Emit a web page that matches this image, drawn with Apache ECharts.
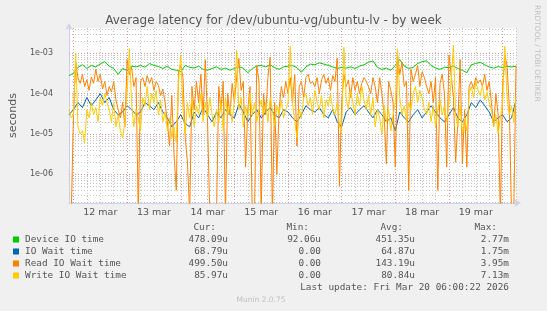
<!DOCTYPE html>
<html>
<head>
<meta charset="utf-8">
<script src="https://cdn.jsdelivr.net/npm/echarts@6/dist/echarts.min.js"></script>
<style>
  html, body { margin: 0; padding: 0; background: #f0f0f0; }
  #chart { width: 547px; height: 311px; }
</style>
</head>
<body>
<div id="chart"></div>
<script>
// time range of the week graph (UTC)
const startTime = Date.UTC(2026, 2, 11, 22, 0, 0)
const endTime = Date.UTC(2026, 2, 20, 6, 0, 0)
const HOUR = 3600 * 1000

// values in microseconds
// Device IO time, one value every 2 hours
const deviceIoTime = [
  280, 320, 450, 520, 420, 500, 460, 550, 620, 480,
  420, 300, 420, 380, 480, 460, 500, 450, 560, 500,
  470, 420, 480, 400, 380, 350, 500, 450, 430, 480,
  400, 380, 420, 460, 400, 430, 380, 420, 460, 430,
  330, 420, 480, 500, 460, 520, 440, 400, 460, 480,
  500, 440, 340, 460, 540, 520, 580, 540, 500, 460,
  420, 450, 430, 460, 420, 480, 520, 600, 650, 450,
  400, 430, 380, 500, 700, 480, 420, 450, 560, 620,
  650, 500, 430, 400, 450, 440, 480, 420, 380, 330,
  520, 560, 600, 520, 460, 430, 470, 440, 480, 460,
  478,
]
// IO Wait time, one value every 2 hours
const ioWaitTime = [
  30, 40, 60, 45, 80, 50, 70, 100, 60, 80,
  40, 30, 35, 50, 40, 30, 35, 60, 50, 40,
  60, 35, 25, 15, 20, 30, 18, 15, 35, 25,
  45, 30, 20, 35, 25, 40, 30, 25, 55, 35,
  20, 30, 40, 25, 35, 45, 30, 25, 40, 35,
  25, 20, 30, 50, 40, 35, 45, 30, 25, 40,
  20, 15, 35, 45, 30, 40, 50, 35, 25, 40,
  30, 20, 25, 12, 35, 25, 20, 30, 40, 25,
  35, 50, 35, 25, 20, 30, 45, 25, 20, 30,
  60, 45, 70, 50, 35, 20, 25, 30, 20, 25,
  69,
]
// Read IO Wait time, one value every hour
const readIoWaitTime = [
  0, 0, 30, 600, 250, 180, 300, 150, 220, 120,
  260, 180, 400, 200, 300, 130, 200, 90, 150, 110,
  200, 70, 40, 25, 60, 15, 700, 300, 450, 150,
  250, 0, 200, 250, 150, 280, 180, 250, 120, 200,
  160, 90, 130, 60, 20, 5, 90, 3, 0.4, 350,
  500, 250, 8, 2, 0, 150, 40, 200, 60, 300,
  30, 700, 20, 0, 0, 0, 0, 150, 40, 200,
  0, 100, 30, 180, 60, 250, 750, 120, 200, 1.5,
  40, 150, 0, 0, 500, 200, 0, 100, 30, 250,
  800, 0, 60, 1, 40, 150, 80, 200, 100, 250,
  60, 300, 5, 150, 200, 80, 250, 300, 180, 200,
  150, 250, 100, 220, 300, 180, 250, 120, 280, 200,
  750, 0.5, 60, 300, 150, 220, 80, 250, 120, 200,
  100, 180, 250, 200, 150, 100, 250, 150, 60, 250,
  100, 30, 1.8, 200, 120, 60, 1.5, 900, 300, 600,
  150, 200, 0.4, 400, 200, 300, 500, 150, 350, 250,
  150, 100, 200, 60, 250, 0.4, 180, 300, 100, 1.5,
  900, 300, 80, 2, 20, 700, 1.8, 40, 1.5, 150,
  200, 130, 250, 180, 220, 150, 300, 120, 200, 60,
  15, 100, 30, 0, 150, 900, 500, 50, 0, 0,
  500,
]
// Write IO Wait time, one value every hour
const writeIoWaitTime = [
  40, 25, 30, 1000, 15, 10, 12, 6, 40, 25,
  60, 30, 45, 20, 80, 50, 100, 60, 40, 20,
  60, 15, 30, 12, 8, 20, 100, 1300, 60, 15,
  40, 25, 12, 80, 50, 150, 40, 100, 60, 120,
  30, 70, 20, 35, 12, 25, 8, 15, 6, 200,
  900, 40, 10, 60, 25, 80, 15, 50, 30, 100,
  20, 60, 25, 80, 30, 15, 40, 20, 60, 12,
  80, 30, 50, 20, 70, 1200, 40, 80, 15, 50,
  25, 100, 30, 60, 20, 40, 70, 30, 60, 20,
  80, 40, 15, 50, 30, 70, 25, 40, 60, 1500,
  60, 20, 8, 40, 25, 80, 100, 50, 80, 30,
  120, 60, 40, 90, 25, 70, 50, 100, 40, 30,
  60, 15, 12, 1400, 80, 40, 120, 60, 30, 100,
  50, 150, 70, 40, 90, 30, 80, 15, 40, 25,
  10, 50, 20, 40, 12, 30, 60, 1300, 80, 30,
  50, 20, 60, 40, 100, 150, 60, 120, 80, 40,
  30, 60, 20, 50, 15, 40, 70, 30, 50, 20,
  60, 200, 1600, 30, 15, 50, 10, 25, 12, 100,
  150, 80, 200, 120, 90, 160, 70, 110, 60, 40,
  15, 30, 10, 25, 60, 1500, 80, 30, 50, 20,
  86,
]

const seriesNames = ['Device IO time', 'IO Wait time', 'Read IO Wait time', 'Write IO Wait time']
const seriesColors = ['#00cc00', '#0066b3', '#ff8000', '#ffcc00']
const curValues = ['478.09u', '68.79u', '499.50u', '85.97u']
const minValues = ['92.06u', '0.00', '0.00', '0.00']
const avgValues = ['451.35u', '64.87u', '143.19u', '80.84u']
const maxValues = ['2.77m', '1.75m', '3.95m', '7.13m']
const lastUpdate = 'Last update: Fri Mar 20 06:00:22 2026'

const yMin = 1.93e-7
const yMax = 4.25e-3

// grid positions
const majorGridY = [1e-6, 1e-5, 1e-4, 1e-3]
const minorGridY = []
for (let e = -7; e <= -3; e++) {
  for (let m = 2; m <= 9; m++) {
    const v = m * Math.pow(10, e)
    if (v > yMin && v < yMax) minorGridY.push(v)
  }
}
const midnights = []
const sixHourMarks = []
for (let t = Date.UTC(2026, 2, 12); t <= endTime; t += 6 * HOUR) {
  if (new Date(t).getUTCHours() === 0) midnights.push(t)
  else sixHourMarks.push(t)
}
const dayNoons = midnights.filter((t) => t + 12 * HOUR < endTime).map((t) => t + 12 * HOUR)

function toPoints(values, stepHours) {
  // zero can't sit on a log axis: push it below the bottom so the drops get clipped like rrdtool
  return values.map((v, i) => [startTime + i * stepHours * HOUR, Math.max(v, 0.1) * 1e-6])
}

const minorColor = '#c4c4c4'
const majorColor = '#e39292'
function hLine(v, color) {
  return [{ coord: [startTime, v], lineStyle: { color } }, { coord: [endTime, v] }]
}
function vLine(t, color) {
  return [{ coord: [t, yMin], lineStyle: { color } }, { coord: [t, yMax] }]
}
const gridLines = [
  ...minorGridY.map((v) => hLine(v, minorColor)),
  ...sixHourMarks.map((t) => vLine(t, minorColor)),
  ...majorGridY.map((v) => hLine(v, majorColor)),
  ...midnights.map((t) => vLine(t, majorColor)),
]

const chart = echarts.init(document.getElementById('chart'), null, { renderer: 'canvas' })

const dataSeries = [
  toPoints(deviceIoTime, 2),
  toPoints(ioWaitTime, 2),
  toPoints(readIoWaitTime, 1),
  toPoints(writeIoWaitTime, 1),
].map((data, i) => ({
  name: seriesNames[i],
  type: 'line',
  data,
  z: 3 + i,
  showSymbol: false,
  symbol: 'none',
  lineStyle: { width: 1, color: seriesColors[i] },
  itemStyle: { color: seriesColors[i] },
}))

const mono = 'DejaVu Sans Mono'
const legendRows = [239.5, 251.5, 263.5, 275.5]
const textColor = '#555'
function label(x, y, text, align) {
  return { type: 'text', x, y, style: { text, font: `9.4px "${mono}"`, fill: textColor, align: align || 'left', verticalAlign: 'middle' } }
}
const footer = [
  label(216, 227.5, 'Cur:', 'right'),
  label(309, 227.5, 'Min:', 'right'),
  label(403, 227.5, 'Avg:', 'right'),
  label(497, 227.5, 'Max:', 'right'),
]
legendRows.forEach((y, i) => {
  footer.push(
    { type: 'rect', shape: { x: 13, y: y - 3, width: 6, height: 6 }, style: { fill: seriesColors[i] } },
    label(25, y, seriesNames[i]),
    label(228, y, curValues[i], 'right'),
    label(321, y, minValues[i], 'right'),
    label(415, y, avgValues[i], 'right'),
    label(509, y, maxValues[i], 'right'),
  )
})
footer.push(
  label(509, 287.5, lastUpdate, 'right'),
  { type: 'text', x: 261, y: 300, style: { text: 'Munin 2.0.75', font: '7.5px "DejaVu Sans"', fill: '#c0c0c0', align: 'center', verticalAlign: 'middle' } },
  { type: 'text', x: 537, y: 5, rotation: -Math.PI / 2, style: { text: 'RRDTOOL / TOBI OETIKER', font: '7.5px "DejaVu Sans"', fill: '#c0c0c0', align: 'left', verticalAlign: 'middle' } },
)

chart.setOption({
  animation: false,
  backgroundColor: '#f0f0f0',
  title: {
    text: 'Average latency for /dev/ubuntu-vg/ubuntu-lv - by week',
    left: 'center',
    top: 10,
    textStyle: { fontFamily: 'DejaVu Sans', fontSize: 12, fontWeight: 'normal', color: '#555' },
  },
  grid: {
    left: 66,
    right: 31,
    top: 28,
    bottom: 108,
    show: true,
    backgroundColor: '#ffffff',
    borderWidth: 0,
  },
  xAxis: {
    type: 'value',
    min: startTime,
    max: endTime,
    axisLine: {
      lineStyle: { color: '#cdd3f0' },
      symbol: ['none', 'arrow'],
      symbolSize: [6, 7],
      symbolOffset: [0, 5],
    },
    axisTick: { show: false },
    splitLine: { show: false },
    axisLabel: {
      customValues: dayNoons,
      formatter: (v) => new Date(v).getUTCDate() + ' mar',
      color: '#555',
      fontFamily: 'DejaVu Sans',
      fontSize: 9.5,
      margin: 5,
    },
  },
  yAxis: {
    type: 'log',
    logBase: 10,
    min: yMin,
    max: yMax,
    name: 'seconds',
    nameLocation: 'middle',
    nameGap: 50,
    nameRotate: 90,
    nameTextStyle: { fontFamily: 'DejaVu Sans', fontSize: 11, color: '#555' },
    axisLine: {
      show: true,
      lineStyle: { color: '#cdd3f0' },
      symbol: ['none', 'arrow'],
      symbolSize: [6, 7],
      symbolOffset: [0, 5],
    },
    axisTick: { show: false },
    splitLine: { show: false },
    axisLabel: {
      showMinLabel: false,
      showMaxLabel: false,
      color: '#555',
      fontFamily: 'DejaVu Sans',
      fontSize: 8,
      margin: 16,
      formatter: (v) => {
        const e = Math.log10(v)
        if (Math.abs(e - Math.round(e)) > 1e-6) return ''
        const n = Math.round(e)
        return '1e' + (n < 0 ? '-' : '+') + String(Math.abs(n)).padStart(2, '0')
      },
    },
  },
  series: [
    {
      name: 'grid',
      type: 'line',
      data: [],
      z: 1,
      silent: true,
      markLine: {
        silent: true,
        z: 1,
        symbol: ['none', 'none'],
        label: { show: false },
        animation: false,
        lineStyle: { width: 1, type: [1, 2] },
        data: gridLines,
      },
    },
    ...dataSeries,
  ],
  graphic: footer,
})
</script>
</body>
</html>
